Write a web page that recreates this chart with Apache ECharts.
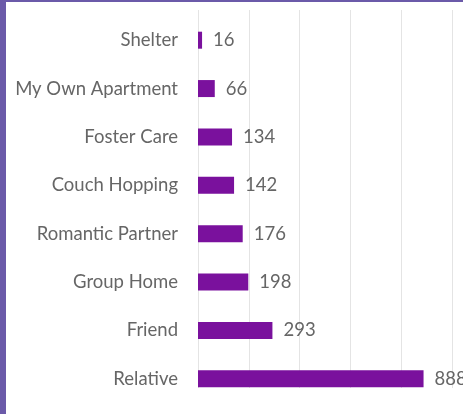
<!DOCTYPE html>
<html><head><meta charset="utf-8">
<script src="https://cdn.jsdelivr.net/npm/echarts@6/dist/echarts.min.js"></script>
<style>
html,body{margin:0;padding:0;background:#fff;}
#wrap{position:relative;width:463px;height:414px;overflow:hidden;background:#fff;}
#chart{position:absolute;left:0;top:0;width:463px;height:414px;}
#bl{position:absolute;left:0;top:0;width:6px;height:414px;background:#6b5aa9;}
#bt{position:absolute;left:0;top:0;width:463px;height:2px;background:#6b5aa9;}
</style></head>
<body><div id="wrap"><div id="chart"></div><div id="bl"></div><div id="bt"></div></div>
<script>
const categories = ['Shelter','My Own Apartment','Foster Care','Couch Hopping','Romantic Partner','Group Home','Friend','Relative'];
const values = [16,66,134,142,176,198,293,888];
const xTicks = [0,200,400,600,800,1000];

const chart = echarts.init(document.getElementById('chart'), null, {renderer:'canvas'});
const font = 'Lato';
chart.setOption({
  animation:false,
  backgroundColor:'transparent',
  grid:[
    {left:198, right:11, top:16, height:387, containLabel:false},
    {left:198, right:11, top:10, height:378, containLabel:false}
  ],
  xAxis:[
    {type:'value', gridIndex:0, min:xTicks[0], max:xTicks[xTicks.length-1], interval:xTicks[1]-xTicks[0],
     axisLabel:{show:false}, axisLine:{show:false}, axisTick:{show:false}, splitLine:{show:false}},
    {type:'value', gridIndex:1, min:xTicks[0], max:xTicks[xTicks.length-1], interval:xTicks[1]-xTicks[0],
     axisLabel:{show:false}, axisLine:{show:false}, axisTick:{show:false},
     splitLine:{show:true, lineStyle:{color:'#e4e4e4', width:1}}}
  ],
  yAxis:[
    {type:'category', gridIndex:0, data:categories, inverse:true,
     axisLine:{show:false}, axisTick:{show:false},
     axisLabel:{color:'#666666', fontFamily:font, fontSize:18.5, margin:20}},
    {type:'category', gridIndex:1, data:categories, inverse:true, show:false}
  ],
  series:[{
    type:'bar', xAxisIndex:0, yAxisIndex:0, data:values, barWidth:17,
    itemStyle:{color:'#7a119d'},
    label:{show:true, position:'right', distance:11, color:'#666666', fontFamily:font, fontSize:18.5}
  }]
});
</script></body></html>
